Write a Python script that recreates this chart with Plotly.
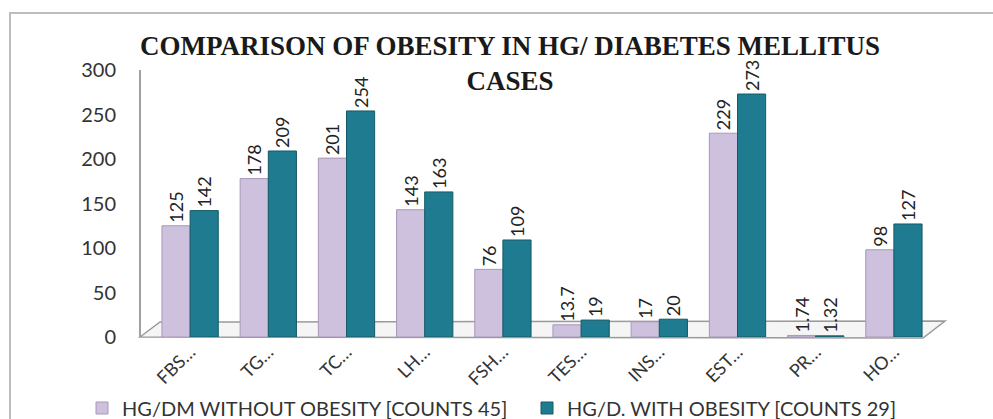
import plotly.graph_objects as go

# Parameters and mean values for the two groups
categories = ["FBS…", "TG…", "TC…", "LH…", "FSH…", "TES…", "INS…", "EST…", "PR…", "HO…"]
without_obesity = [125, 178, 201, 143, 76, 13.7, 17, 229, 1.74, 98]
with_obesity = [142, 209, 254, 163, 109, 19, 20, 273, 1.32, 127]
without_labels = ["125", "178", "201", "143", "76", "13.7", "17", "229", "1.74", "98"]
with_labels = ["142", "209", "254", "163", "109", "19", "20", "273", "1.32", "127"]
y_ticks = [0, 50, 100, 150, 200, 250, 300]

series_names = ["HG/DM WITHOUT OBESITY [COUNTS 45]", "HG/D. WITH OBESITY [COUNTS 29]"]

W, H = 993, 419
L, R, T, B = 151, 933, 70, 337  # plot area in pixels


def px(x):
    return (x - L) / (R - L)


def py(y):
    return (B - y) / (B - T)


label_font = dict(family="Lato", size=18, color="#222222")

fig = go.Figure()
fig.add_trace(go.Bar(
    x=categories, y=without_obesity, name=series_names[0],
    marker=dict(color="#cdc1de", line=dict(color="#a898b8", width=1)),
    text=without_labels, textposition="outside", textangle=-90,
    textfont=label_font, constraintext="none", cliponaxis=False,
))
fig.add_trace(go.Bar(
    x=categories, y=with_obesity, name=series_names[1],
    marker=dict(color="#1f7b8f", line=dict(color="#155a68", width=1)),
    text=with_labels, textposition="outside", textangle=-90,
    textfont=label_font, constraintext="none", cliponaxis=False,
))

shapes = [
    # outer chart border
    dict(type="rect", xref="paper", yref="paper",
         x0=px(10), x1=px(1010), y0=py(440), y1=py(13),
         line=dict(color="#bdbdbd", width=2), layer="below"),
    # vertical wall edge
    dict(type="line", xref="paper", yref="paper",
         x0=px(140), x1=px(140), y0=py(337), y1=py(70),
         line=dict(color="#a0a0a0", width=2)),
    # floor outline
    dict(type="path", xref="paper", yref="paper",
         path=(f"M {px(140)} {py(337)} L {px(160)} {py(322)} L {px(945)} {py(321)} "
               f"L {px(923)} {py(338)} Z"),
         line=dict(color="#9a9a9a", width=1.5), fillcolor="rgba(235,235,235,0.5)",
         layer="below"),
]

fig.update_layout(
    width=W, height=H,
    margin=dict(l=L, r=W - R, t=T, b=H - B, autoexpand=False),
    paper_bgcolor="white", plot_bgcolor="white",
    barmode="group", bargap=0.28, bargroupgap=0.0,
    title=dict(
        text="COMPARISON OF OBESITY IN HG/ DIABETES MELLITUS<br>CASES",
        x=510 / W, xanchor="center", y=1 - 55 / H, yanchor="top",
        font=dict(family="Liberation Serif", size=27, color="#1a1a1a", weight="bold"),
    ),
    font=dict(family="Lato", color="#333333"),
    xaxis=dict(
        tickangle=-45, tickfont=dict(family="Lato", size=18, color="#333333"),
        showline=False, showgrid=False, ticks="", automargin=False,
    ),
    yaxis=dict(
        range=[0, 300], tickvals=y_ticks, showgrid=False, zeroline=False,
        showline=False, ticks="", ticklabelstandoff=34, automargin=False,
        tickfont=dict(family="Lato", size=20, color="#333333"),
    ),
    legend=dict(
        orientation="h", x=px(82), xanchor="left", xref="paper",
        y=py(408), yanchor="middle", yref="paper",
        font=dict(family="Lato", size=20, color="#333333"),
        bgcolor="rgba(0,0,0,0)", itemwidth=30, traceorder="normal",
        entrywidth=400, entrywidthmode="pixels",
    ),
    shapes=shapes,
)

fig.write_html("out.html")
